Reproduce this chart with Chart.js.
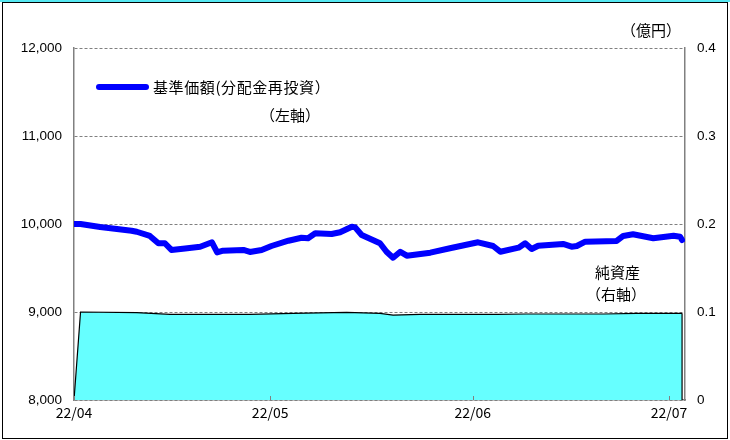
<!DOCTYPE html>
<html>
<head>
<meta charset="utf-8">
<script src="https://cdn.jsdelivr.net/npm/chart.js@4"></script>
<style>
  body { margin: 0; background: #fff; }
  #wrap { position: relative; width: 730px; height: 440px; }
  #strip { position: absolute; left: 0; top: 0; width: 730px; height: 2px; background: #55e8f2; }
  #frame { position: absolute; left: 2px; top: 1.5px; width: 726px; height: 437px;
           border: 1.5px solid #000; box-sizing: border-box; pointer-events: none; }
</style>
</head>
<body>
<div id="wrap">
  <canvas id="fund-chart"></canvas>
  <div id="strip"></div>
  <div id="frame"></div>
</div>
<script>
// x = days since 2022/04/01
const navDays = [0, 1, 4, 8.8, 9.6, 11.6, 12.9, 13.9, 14.9, 17, 19.3, 21.1, 21.9, 22.8, 25.9, 26.9, 28.7, 30.2,
    32.8, 34.8, 35.8, 36.9, 39.4, 40.7, 42.5, 43, 44, 46.8, 47.8, 48.8, 49.9, 50.9, 54.5, 57.5, 61.8, 64.1,
    65.2, 68, 69, 70, 71, 74.8, 76.1, 76.9, 78.2, 83, 84, 85.5, 88.6, 91.7, 92.7, 93];
const navValues = [10000, 10000, 9966, 9924, 9912, 9864, 9781, 9781, 9705, 9722, 9742, 9792, 9678, 9697, 9705, 9682, 9705, 9750,
    9810, 9844, 9838, 9894, 9886, 9906, 9969, 9962, 9875, 9781, 9685, 9617, 9685, 9640, 9674, 9724, 9792, 9750,
    9685, 9731, 9781, 9716, 9753, 9773, 9742, 9750, 9799, 9807, 9864, 9883, 9838, 9867, 9856, 9818];

const assetDays = [0, 1, 9.6, 14.7, 21.8, 26.9, 33.5, 41.7, 46.8, 48.8, 52.9, 64.7, 69.2, 81, 86.1, 93];
const assetValues = [0, 0.1, 0.0993, 0.0972, 0.0972, 0.0972, 0.0985, 0.0995, 0.0985, 0.0965, 0.0972, 0.0972, 0.0977, 0.0977, 0.0985, 0.0985];

const tickDays = [0, 30, 61, 91];
const tickLabels = ['22/04', '22/05', '22/06', '22/07'];

const navLabel = '基準価額(分配金再投資）';
const jpFont = '"Noto Sans CJK JP", sans-serif';

const decorations = {
    id: 'decorations',
    afterDatasetsDraw(chart) {
        const ctx = chart.ctx;
        const area = chart.chartArea;
        const xs = chart.scales.x;
        ctx.save();
        // closing edge of the net asset area
        const pts = chart.getDatasetMeta(1).data;
        const last = pts[pts.length - 1];
        ctx.strokeStyle = '#000';
        ctx.lineWidth = 1.2;
        ctx.beginPath();
        ctx.moveTo(last.x, last.y);
        ctx.lineTo(last.x, area.bottom);
        ctx.stroke();
        // month tick marks (inside)
        ctx.strokeStyle = '#808080';
        ctx.lineWidth = 1;
        tickDays.forEach(function(d) {
            const px = Math.round(xs.getPixelForValue(d)) + 0.5;
            ctx.beginPath();
            ctx.moveTo(px, area.bottom);
            ctx.lineTo(px, area.bottom - 4);
            ctx.stroke();
        });
        ctx.restore();
    },
    afterDraw(chart) {
        const ctx = chart.ctx;
        ctx.save();
        // legend
        ctx.strokeStyle = '#0000ff';
        ctx.lineWidth = 6;
        ctx.lineCap = 'round';
        ctx.beginPath();
        ctx.moveTo(99, 87);
        ctx.lineTo(146, 87);
        ctx.stroke();
        ctx.fillStyle = '#000';
        ctx.font = '15px ' + jpFont;
        ctx.textBaseline = 'middle';
        ctx.textAlign = 'left';
        ctx.letterSpacing = '0.6px';
        ctx.fillText(navLabel, 153, 87);
        ctx.letterSpacing = '0px';
        ctx.fillText('（左軸）', 260, 115);
        ctx.fillText('（億円）', 621, 30);
        ctx.fillText('純資産', 595, 272);
        ctx.fillText('（右軸）', 586, 294);
        ctx.restore();
    }
};

new Chart(document.getElementById('fund-chart'), {
    type: 'line',
    data: {
        datasets: [
            {
                label: navLabel,
                data: navDays.map((d, i) => ({x: d, y: navValues[i]})),
                borderColor: '#0000ff',
                borderWidth: 6,
                borderCapStyle: 'round',
                borderJoinStyle: 'round',
                pointRadius: 0,
                tension: 0,
                yAxisID: 'y',
                order: 0
            },
            {
                label: '純資産',
                data: assetDays.map((d, i) => ({x: d, y: assetValues[i]})),
                borderColor: '#000',
                borderWidth: 1.2,
                backgroundColor: '#66ffff',
                fill: 'origin',
                pointRadius: 0,
                tension: 0,
                yAxisID: 'y2',
                order: 1
            }
        ]
    },
    plugins: [decorations],
    options: {
        responsive: true,
        maintainAspectRatio: false,
        animation: false,
        layout: { padding: { top: 48, left: 0, right: 0, bottom: 0 } },
        plugins: {
            legend: { display: false },
            tooltip: { enabled: false }
        },
        scales: {
            x: {
                type: 'linear',
                min: 0,
                max: 93.45,
                afterBuildTicks: s => { s.ticks = tickDays.map(v => ({value: v})); },
                afterFit: s => { s.height = 40; },
                grid: { display: false, drawTicks: false },
                border: { color: '#808080', width: 1.5 },
                ticks: {
                    autoSkip: false,
                    maxRotation: 0,
                    padding: 4,
                    color: '#000',
                    font: { family: jpFont, size: 14 },
                    callback: (v, i) => tickLabels[i]
                }
            },
            y: {
                position: 'left',
                min: 8000,
                max: 12000,
                afterFit: s => { s.width = 74; },
                grid: { color: '#808080', lineWidth: 1, drawTicks: false },
                border: { color: '#808080', width: 1.5, dash: [3, 2] },
                ticks: {
                    stepSize: 1000,
                    padding: 12,
                    color: '#000',
                    font: { family: '"Liberation Sans", Arial, sans-serif', size: 13.5 },
                    callback: v => v.toLocaleString('en-US')
                }
            },
            y2: {
                position: 'right',
                min: 0,
                max: 0.4,
                afterFit: s => { s.width = 45; },
                grid: { display: false, drawTicks: false },
                border: { color: '#808080', width: 1.5 },
                ticks: {
                    stepSize: 0.1,
                    padding: 12,
                    color: '#000',
                    font: { family: '"Liberation Sans", Arial, sans-serif', size: 13.5 },
                    callback: v => v === 0 ? '0' : v.toFixed(1)
                }
            }
        }
    }
});
</script>
</body>
</html>
